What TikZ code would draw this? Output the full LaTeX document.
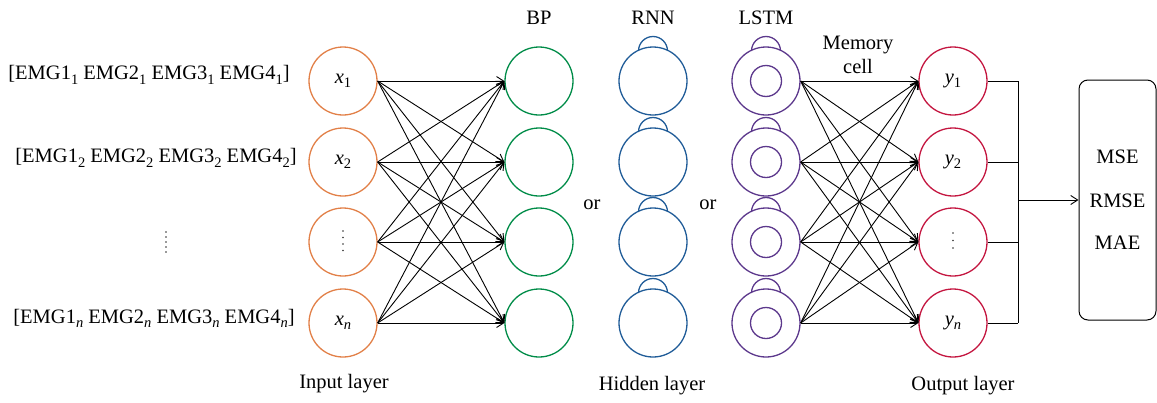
\documentclass[tikz,border=0pt]{standalone}
\usepackage{fontspec}
\setmainfont{Liberation Serif}
\usetikzlibrary{arrows.meta}

\definecolor{incol}{RGB}{226,128,72}
\definecolor{bpcol}{RGB}{0,140,72}
\definecolor{rnncol}{RGB}{32,92,152}
\definecolor{lstmcol}{RGB}{92,56,140}
\definecolor{outcol}{RGB}{196,22,64}

% lowered index for text-mode subscripts
\newcommand{\lsub}[1]{\raisebox{-0.45ex}{\fontsize{14.5pt}{14.5pt}\selectfont #1}}

\begin{document}
\begin{tikzpicture}[x=1pt,y=-1pt,
  font=\fontsize{20.5pt}{24pt}\selectfont,
  neuron/.style={circle, draw, line width=1.3pt, minimum size=68pt, inner sep=0pt, fill=white},
  selfloop/.style={circle, draw, line width=1.3pt, minimum size=29pt, inner sep=0pt},
  core/.style={circle, draw, line width=1.3pt, minimum size=31pt, inner sep=0pt},
  link/.style={line width=0.9pt, -{Straight Barb[length=7pt,width=9pt,line width=0.9pt]}},
  wire/.style={line width=1pt},
  label/.style={inner sep=0pt},
  dot/.style={fill=black!80}]

\useasboundingbox (0,0) rectangle (1157,402);

% neuron columns
\foreach \i/\y in {1/81,2/162,3/242,4/323} {
  \node[neuron, draw=incol] (in\i) at (343,\y) {};
  \node[neuron, draw=bpcol] (bp\i) at (539,\y) {};
  \node[selfloop, draw=rnncol] (rnnloop\i) at (653,\y-30) {};
  \node[neuron, draw=rnncol] (rnn\i) at (653,\y) {};
  \node[selfloop, draw=lstmcol] (lstmloop\i) at (766,\y-30) {};
  \node[neuron, draw=lstmcol] (lstm\i) at (766,\y) {};
  \node[core, draw=lstmcol] (lstmcore\i) at (766,\y) {};
  \node[neuron, draw=outcol] (out\i) at (953,\y) {};
}

% neuron symbols
\node[label] (x1) at (in1) {\textit{x}\lsub{1}};
\node[label] (x2) at (in2) {\textit{x}\lsub{2}};
\node[label] (xn) at (in4) {\textit{x}\lsub{\textit{n}}};
\node[label] (y1) at (out1) {\textit{y}\lsub{1}};
\node[label] (y2) at (out2) {\textit{y}\lsub{2}};
\node[label] (yn) at (out4) {\textit{y}\lsub{\textit{n}}};

% vertical ellipses
\foreach \d in {231,237.5,244,250.5} \fill[dot] (343,\d) circle (0.8);
\foreach \d in {233,240.5,248} \fill[dot] (953,\d) circle (0.9);
\foreach \d in {232,237,242,247,252} \fill[dot] (166,\d) circle (0.8);

% full connections
\foreach \i in {1,...,4} {
  \foreach \j in {1,...,4} {
    \draw[link] (in\i.east) -- (bp\j.west);
    \draw[link] (lstm\i.east) -- (out\j.west);
  }
}

% input vectors
\node[label] (v1) at (149,75) {[EMG1\lsub{1} EMG2\lsub{1} EMG3\lsub{1} EMG4\lsub{1}]};
\node[label] (v2) at (156,158) {[EMG1\lsub{2} EMG2\lsub{2} EMG3\lsub{2} EMG4\lsub{2}]};
\node[label] (vn) at (154,318) {[EMG1\lsub{\textit{n}} EMG2\lsub{\textit{n}} EMG3\lsub{\textit{n}} EMG4\lsub{\textit{n}}]};

% headings
\node[label] (hbp) at (539,18) {BP};
\node[label] (hrnn) at (653,18) {RNN};
\node[label] (hlstm) at (766,18) {LSTM};
\node[label, align=center] (hmem) at (858,55) {Memory\\cell};
\node[label] (or1) at (592,205) {or};
\node[label] (or2) at (708,205) {or};

\node[label] (lin) at (344,384) {Input layer};
\node[label] (lhid) at (652,386) {Hidden layer};
\node[label] (lout) at (963,386) {Output layer};

% error metrics
\node[draw, line width=1pt, rounded corners=9pt, minimum width=77pt, minimum height=240pt,
      align=center, inner sep=0pt] (metrics) at (1117.5,200) {MSE\\[20pt]RMSE\\[18pt]MAE};

% output bus
\coordinate (bus) at (1018,200);
\foreach \i in {1,...,4} \draw[wire] (out\i.east) -- (out\i.east -| bus);
\draw[wire] (out1.east -| bus) -- (out4.east -| bus);
\draw[link] (bus |- metrics.west) -- (metrics.west);

\end{tikzpicture}
\end{document}
